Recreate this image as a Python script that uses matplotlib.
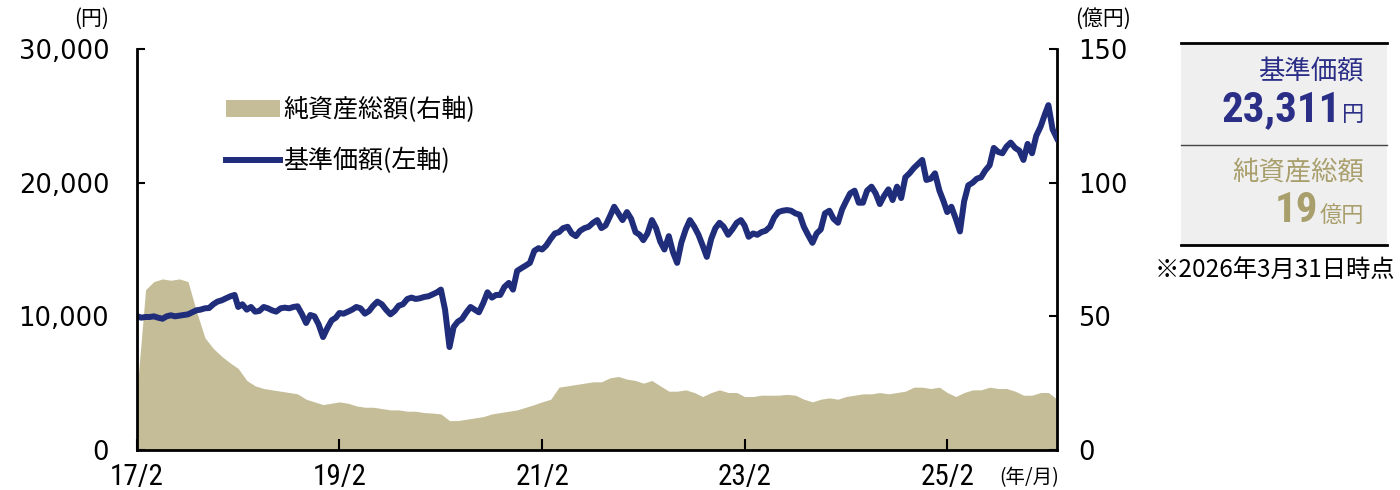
import matplotlib
matplotlib.use('Agg')
import matplotlib.pyplot as plt
from matplotlib import font_manager as fm
from matplotlib.patches import Patch, Rectangle
from matplotlib.lines import Line2D
from matplotlib.ticker import FuncFormatter
import pandas as pd

plt.rcParams['font.family'] = ['Noto Sans CJK JP', 'DejaVu Sans']

# 基準価額 (円) - half-monthly readings, 2017/2 end .. 2026/3/31
nav = [10020,
       9900, 9950, 9950, 10000, 9900, 9820, 10000, 10080, 10000, 10050, 10100, 10150,
       10300, 10450, 10500, 10600, 10620, 10900, 11100, 11200, 11350, 11500, 11600, 10700,
       10900, 10500, 10700, 10350, 10400, 10700, 10600, 10450, 10350, 10600, 10650, 10600,
       10700, 10750, 10200, 9500, 10100, 10000, 9400, 8450, 9100, 9700, 9900, 10250,
       10200, 10350, 10500, 10700, 10600, 10200, 10400, 10800, 11100, 10900, 10500, 10150,
       10400, 10800, 10900, 11300, 11400, 11300, 11350, 11450, 11500, 11650, 11800, 12000,
       10500, 7700, 9200, 9600, 9800, 10300, 10700, 10500, 10300, 11000, 11800, 11400,
       11600, 11600, 12200, 12500, 12000, 13400, 13600, 13800, 14000, 14900, 15100, 15000,
       15300, 15800, 16200, 16300, 16600, 16700, 16200, 16000, 16400, 16600, 16700, 17000,
       17200, 16600, 16800, 17500, 18200, 17700, 17200, 17800, 17300, 16300, 16100, 15700,
       16200, 17200, 16600, 15600, 15000, 16000, 14800, 14000, 15500, 16500, 17200, 16700,
       16100, 15300, 14450, 15800, 16600, 17000, 16700, 16100, 16500, 17000, 17200, 16800,
       15950, 16200, 16100, 16300, 16400, 16700, 17400, 17800, 17900, 17950, 17900, 17700,
       17600, 16700, 16100, 15500, 16200, 16500, 17700, 17900, 17300, 17000, 18000, 18600,
       19200, 19400, 18500, 18500, 19400, 19700, 19200, 18400, 19000, 19500, 18700, 19700,
       18850, 20400, 20700, 21100, 21400, 21700, 20200, 20300, 20700, 19400, 18600, 17800,
       18200, 17300, 16350, 18600, 19800, 20000, 20300, 20400, 20900, 21300, 22600, 22300,
       22200, 22700, 23000, 22600, 22400, 21700, 22900, 22200, 23500, 24200, 25100, 25800,
       24000, 23311]
nav_dates = pd.date_range('2017-02-28', '2026-03-31', freq='SME')

# 純資産総額 (億円) - monthly readings
assets = [22,
          60, 63, 64, 63.5, 64, 63, 52, 42, 38, 35, 32.5, 30.5,
          26, 24, 23, 22.5, 22, 21.5, 21, 19, 18, 17, 17.5, 18,
          17.5, 16.5, 16, 16, 15.5, 15, 15, 14.5, 14.5, 14, 13.8, 13.5,
          11, 11, 11.5, 12, 12.5, 13.5, 14, 14.5, 15, 16, 17, 18,
          19, 23.5, 24, 24.5, 25, 25.5, 25.5, 27, 27.5, 26.5, 26, 25,
          26, 24, 22, 22, 22.5, 21.5, 20, 21.5, 22.5, 21.5, 21.5, 20,
          20, 20.5, 20.5, 20.5, 20.8, 20.5, 19, 18, 19, 19.5, 19, 20,
          20.5, 21, 21, 21.5, 21, 21.5, 22, 23.5, 23.5, 23, 23.5, 21.5,
          20, 21.5, 22.5, 22.5, 23.5, 23, 23, 22, 20.5, 20.5, 21.5, 21.5,
          19]
asset_dates = pd.date_range('2017-02-28', '2026-03-31', freq='ME')

xtick_dates = pd.to_datetime(['2017-02-28', '2019-02-28', '2021-02-28', '2023-02-28', '2025-02-28'])
xtick_labels = ['17/2', '19/2', '21/2', '23/2', '25/2']
left_ticks = [0, 10000, 20000, 30000]
right_ticks = [0, 50, 100, 150]

NAVY = '#1f2d7b'
KHAKI = '#c5bd98'
TXT_NAVY = '#2b2e86'
TXT_KHAKI = '#a99f6c'

names = {f.name for f in fm.fontManager.ttflist}
narrow = next((n for n in ['Roboto Condensed', 'Liberation Sans Narrow'] if n in names), 'DejaVu Sans')

fig = plt.figure(figsize=(14, 4.9), dpi=100)
ax = fig.add_axes([137 / 1400, 40 / 490, 920 / 1400, 401 / 490])
ax2 = ax.twinx()

ax2.fill_between(asset_dates, assets, 0, color=KHAKI, lw=0)
ax.plot(nav_dates, nav, color=NAVY, lw=4.3, solid_joinstyle='round')
ax.set_zorder(ax2.get_zorder() + 1)
ax.patch.set_visible(False)

ax.set_xlim(pd.Timestamp('2017-02-28'), pd.Timestamp('2026-03-31'))
ax.set_ylim(0, 30000)
ax2.set_ylim(0, 150)

ax.set_yticks(left_ticks)
ax.yaxis.set_major_formatter(FuncFormatter(lambda v, p: f'{v:,.0f}'))
ax2.set_yticks(right_ticks)
ax.set_xticks(xtick_dates)
ax.set_xticklabels(xtick_labels, fontfamily=narrow, fontsize=21)

for lab in ax.get_yticklabels() + ax2.get_yticklabels():
    lab.set_fontfamily('DejaVu Sans')
ax.tick_params(axis='y', direction='in', length=6, width=1.5, labelsize=18.5, pad=20)
ax2.tick_params(axis='y', direction='in', length=6, width=1.5, labelsize=18.5, pad=15)
ax.tick_params(axis='x', direction='in', length=8, width=1.5, pad=9)

for s in ['top', 'right']:
    ax.spines[s].set_visible(False)
for s in ['top', 'left', 'bottom']:
    ax2.spines[s].set_visible(False)
ax.spines['left'].set_linewidth(2)
ax.spines['bottom'].set_linewidth(2)
ax2.spines['right'].set_linewidth(2)

handles = [Patch(facecolor=KHAKI, edgecolor='none'), Line2D([], [], color=NAVY, lw=4.3)]
ax.legend(handles, ['純資産総額(右軸)', '基準価額(左軸)'], loc='upper left',
          bbox_to_anchor=(0.0967, 0.88), frameon=False, fontsize=18,
          handlelength=2.15, handletextpad=0.15, labelspacing=1.0,
          borderpad=0, borderaxespad=0)

fig.text(92 / 1400, 1 - 19 / 490, '(円)', ha='center', va='center', fontsize=15)
fig.text(1103 / 1400, 1 - 19 / 490, '(億円)', ha='center', va='center', fontsize=15)
fig.text(1029 / 1400, 1 - 478 / 490, '(年/月)', ha='center', va='center', fontsize=14)

# info box on the right
fig.patches.append(Rectangle((1181 / 1400, 0.5), 206 / 1400, 202 / 490,
                             transform=fig.transFigure, facecolor='#efefef', edgecolor='none'))
fig.lines.append(Line2D([1181 / 1400, 1387 / 1400], [1 - 43 / 490] * 2, transform=fig.transFigure, color='black', lw=2))
fig.lines.append(Line2D([1181 / 1400, 1387 / 1400], [1 - 145 / 490] * 2, transform=fig.transFigure, color='#444444', lw=1))
fig.lines.append(Line2D([1181 / 1400, 1387 / 1400], [0.5] * 2, transform=fig.transFigure, color='black', lw=2))

fig.text(1364 / 1400, 1 - 72 / 490, '基準価額', ha='right', va='center', fontsize=19, color=TXT_NAVY)
fig.text(1341 / 1400, 1 - 121 / 490, '23,311', ha='right', va='baseline', fontsize=31,
         fontfamily=narrow, fontweight='bold', color=TXT_NAVY)
fig.text(1364 / 1400, 1 - 121 / 490, '円', ha='right', va='baseline', fontsize=16, color=TXT_NAVY)
fig.text(1364 / 1400, 1 - 172 / 490, '純資産総額', ha='right', va='center', fontsize=19, color=TXT_KHAKI)
fig.text(1318 / 1400, 1 - 222 / 490, '19', ha='right', va='baseline', fontsize=31,
         fontfamily=narrow, fontweight='bold', color=TXT_KHAKI)
fig.text(1364 / 1400, 1 - 222 / 490, '億円', ha='right', va='baseline', fontsize=16, color=TXT_KHAKI)
fig.text(1155 / 1400, 1 - 271 / 490, '※2026年3月31日時点', ha='left', va='center', fontsize=17.5)

fig.savefig('out.png', dpi=100)
